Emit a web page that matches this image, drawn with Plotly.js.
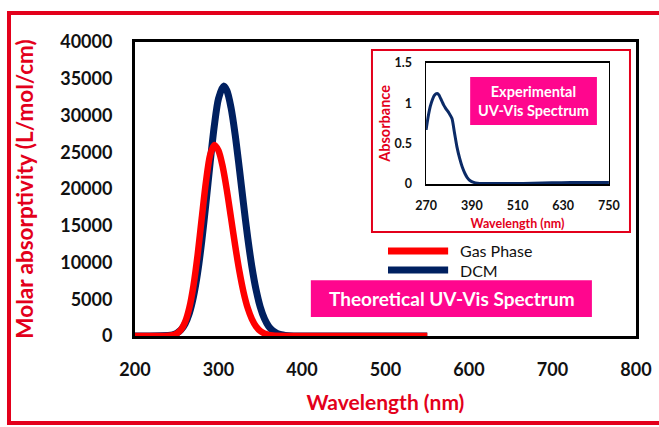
<!DOCTYPE html>
<html>
<head>
<meta charset="utf-8">
<script src="https://cdn.plot.ly/plotly-3.0.1.min.js"></script>
<style>
html,body{margin:0;padding:0;background:#fff;}
#chart{width:659px;height:427px;}
</style>
</head>
<body>
<div id="chart"></div>
<script>
// ---- Theoretical spectra (main chart) ----
const gasName = "Gas Phase";
const gasWl = [200, 240, 245, 250, 255, 260, 265, 270, 275, 280, 285, 290, 295, 300, 305, 310, 315, 320, 325, 330, 335, 340, 345, 350, 355, 360, 365, 370, 380, 550];
const gasEps = [0, 40, 120, 340, 850, 1900, 3800, 6850, 11050, 16100, 21000, 24650, 26000, 25230, 23060, 19840, 16070, 12270, 8820, 5960, 3800, 2290, 1290, 680, 340, 160, 70, 20, 0, 0];

const dcmName = "DCM";
const dcmWl = [200, 245, 250, 255, 260, 265, 270, 275, 280, 285, 290, 295, 300, 306, 310, 315, 320, 325, 330, 335, 340, 345, 350, 355, 360, 365, 370, 375, 380, 390, 400, 550];
const dcmEps = [0, 150, 385, 826, 1660, 3080, 5340, 8610, 12940, 18110, 23590, 28600, 32300, 34000, 33400, 31070, 27350, 22750, 17930, 13360, 9410, 6280, 3950, 2360, 1330, 710, 360, 170, 78, 10, 0, 0];

// ---- Experimental spectrum (inset) ----
const expWl = [270, 275, 281, 287, 292, 299, 304, 308, 316, 321, 330, 338, 344, 351, 358, 365, 372, 378, 386, 395, 405, 420, 450, 500, 550, 600, 650, 700, 750];
const expAbs = [0.67, 0.82, 0.96, 1.05, 1.10, 1.12, 1.10, 1.06, 0.98, 0.94, 0.88, 0.81, 0.65, 0.46, 0.32, 0.21, 0.13, 0.08, 0.04, 0.02, 0.01, 0.006, 0.006, 0.006, 0.008, 0.014, 0.018, 0.02, 0.02];

// ---- Texts ----
const xTitle = "Wavelength (nm)";
const yTitle = "Molar absorptivity (L/mol/cm)";
const insetYTitle = "Absorbance";
const theoLabel = "Theoretical UV-Vis Spectrum";
const expLabel = "Experimental<br>UV-Vis Spectrum";

const RED = "#ff0000";
const NAVY = "#002060";
const PINK = "#ff068e";
const TITLE_RED = "#e3001b";
const FONT = "Lato, 'Open Sans', sans-serif";

const traces = [
  {x: dcmWl, y: dcmEps, name: dcmName, type: "scatter", mode: "lines",
   line: {color: NAVY, width: 7, shape: "spline", smoothing: 0.8}, xaxis: "x", yaxis: "y", showlegend: false},
  {x: gasWl, y: gasEps, name: gasName, type: "scatter", mode: "lines",
   line: {color: RED, width: 6.5, shape: "spline", smoothing: 0.8}, xaxis: "x", yaxis: "y", showlegend: false},
  {x: expWl, y: expAbs, name: "Experimental", type: "scatter", mode: "lines",
   line: {color: "#0b2a66", width: 3, shape: "spline", smoothing: 0.6}, xaxis: "x2", yaxis: "y2", showlegend: false}
];

const layout = {
  width: 659, height: 427,
  margin: {l: 135, r: 23, t: 42, b: 91},
  paper_bgcolor: "#fff", plot_bgcolor: "rgba(0,0,0,0)",
  font: {family: FONT, color: "#111"},
  showlegend: false,
  xaxis: {
    range: [200, 800], dtick: 100, tick0: 200, showgrid: false, zeroline: false,
    showline: true, mirror: true, linecolor: "#000", linewidth: 3,
    ticks: "", ticklabelstandoff: 15,
    tickfont: {family: FONT, size: 18, color: "#111", weight: "bold"},
    title: {text: xTitle, font: {family: FONT, size: 21, color: TITLE_RED, weight: "bold"}, standoff: 17}
  },
  yaxis: {
    range: [0, 40000], dtick: 5000, tick0: 0, tickformat: "d", showgrid: false, zeroline: false,
    showline: true, mirror: true, linecolor: "#000", linewidth: 3,
    ticks: "", ticklabelstandoff: 16,
    tickfont: {family: FONT, size: 18, color: "#111", weight: "bold"},
    title: {text: yTitle, font: {family: FONT, size: 22.5, color: TITLE_RED, weight: "bold"}, standoff: 21}
  },
  xaxis2: {
    domain: [0.581, 0.946], anchor: "y2", range: [270, 750], dtick: 120, tick0: 270,
    showgrid: false, zeroline: false, showline: true, mirror: true, linecolor: "#000", linewidth: 1.5,
    ticks: "", ticklabelstandoff: 9,
    tickfont: {family: FONT, size: 12.5, color: "#111", weight: "bold"},
    title: {text: xTitle, font: {family: FONT, size: 12.5, color: TITLE_RED, weight: "bold"}, standoff: 7}
  },
  yaxis2: {
    domain: [0.517, 0.929], anchor: "x2", range: [0, 1.5], dtick: 0.5, tick0: 0,
    showgrid: false, zeroline: false, showline: true, mirror: true, linecolor: "#000", linewidth: 1.5,
    ticks: "", ticklabelstandoff: 10,
    tickfont: {family: FONT, size: 12.5, color: "#111", weight: "bold"},
    title: {text: insetYTitle, font: {family: FONT, size: 14.5, color: TITLE_RED, weight: "bold"}, standoff: 0}
  },
  shapes: [
    // outer red frame
    {type: "rect", xref: "paper", yref: "paper", x0: -0.2515, x1: 1.06, y0: -0.296, y1: 1.0986,
     line: {color: "#e3001b", width: 4}, fillcolor: "rgba(0,0,0,0)", layer: "below"},
    // inset red frame
    {type: "rect", xref: "paper", yref: "paper", x0: 0.473, x1: 0.988, y0: 0.354, y1: 0.973,
     line: {color: "#e3001b", width: 2}, fillcolor: "rgba(0,0,0,0)", layer: "below"},
    // experimental label box
    {type: "rect", xref: "paper", yref: "paper", x0: 0.669, x1: 0.922, y0: 0.718, y1: 0.881,
     line: {width: 0}, fillcolor: PINK, layer: "above"},
    // theoretical label box
    {type: "rect", xref: "paper", yref: "paper", x0: 0.351, x1: 0.912, y0: 0.0646, y1: 0.190,
     line: {width: 0}, fillcolor: PINK, layer: "above"},
    // legend lines
    {type: "line", xref: "paper", yref: "paper", x0: 0.505, x1: 0.625, y0: 0.289, y1: 0.289,
     line: {color: RED, width: 7}},
    {type: "line", xref: "paper", yref: "paper", x0: 0.505, x1: 0.625, y0: 0.2245, y1: 0.2245,
     line: {color: NAVY, width: 7}}
  ],
  annotations: [
    {xref: "paper", yref: "paper", x: 0.645, y: 0.291, xanchor: "left", yanchor: "middle", showarrow: false,
     text: gasName, font: {family: FONT, size: 16, color: "#111"}},
    {xref: "paper", yref: "paper", x: 0.645, y: 0.2225, xanchor: "left", yanchor: "middle", showarrow: false,
     text: dcmName, font: {family: FONT, size: 16, color: "#111"}},
    {xref: "paper", yref: "paper", x: 0.632, y: 0.1276, xanchor: "center", yanchor: "middle", showarrow: false,
     text: theoLabel, font: {family: FONT, size: 19, color: "#fff", weight: "bold"}},
    {xref: "paper", yref: "paper", x: 0.7955, y: 0.7995, xanchor: "center", yanchor: "middle", showarrow: false,
     text: expLabel, font: {family: FONT, size: 14.5, color: "#fff", weight: "bold"}}
  ]
};

Plotly.newPlot("chart", traces, layout, {displayModeBar: false, staticPlot: true});
</script>
</body>
</html>
